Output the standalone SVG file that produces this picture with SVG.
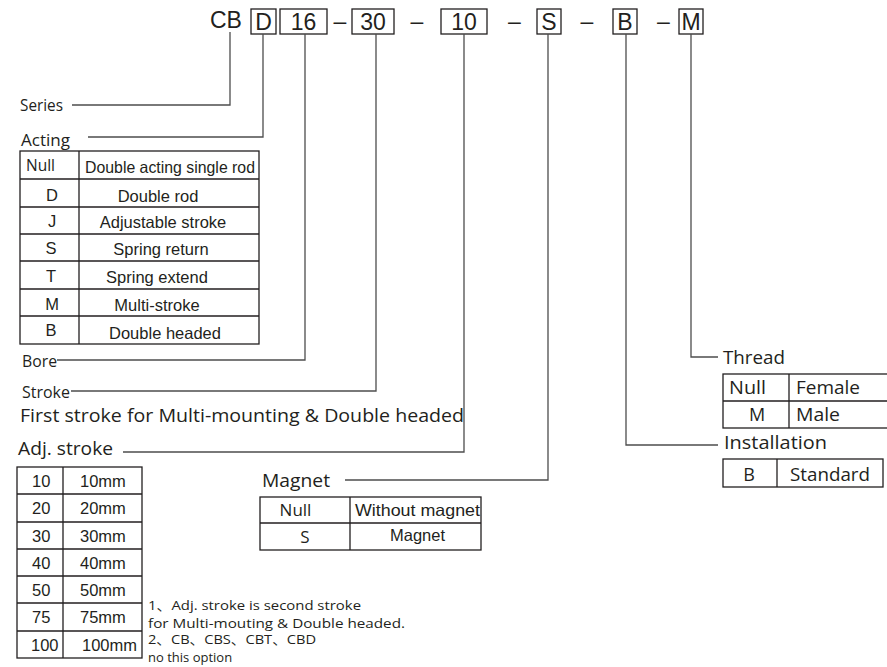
<svg xmlns="http://www.w3.org/2000/svg" width="887" height="667" viewBox="0 0 887 667">
<style>
.bg{fill:#ffffff}
.hd{font-family:"Liberation Sans",Arial,sans-serif;font-size:23px;fill:#231f20}
.box{fill:none;stroke:#231f20;stroke-width:1.3}
.con{fill:none;stroke:#4d4d4d;stroke-width:1.3}
.lbl{font-family:"Open Sans","Noto Sans",sans-serif;fill:#231f20}
.tb{font-family:"Liberation Sans",Arial,sans-serif;font-size:16.5px;fill:#231f20}
.tbh{font-family:"Open Sans","Noto Sans",sans-serif;font-size:17px;fill:#231f20}
.grid{fill:none;stroke:#231f20;stroke-width:1.3}
.note{font-family:"Open Sans","Noto Sans","Noto Sans CJK SC",sans-serif;font-size:13px;fill:#231f20}
.m{text-anchor:middle}
</style>
<rect class="bg" x="0" y="0" width="887" height="667"/>

<g id="code">
  <text class="hd" x="210" y="28">CB</text>
  <rect class="box" x="251" y="9" width="25" height="25"/>
  <text class="hd m" x="263.5" y="30">D</text>
  <rect class="box" x="280" y="9" width="47" height="25"/>
  <text class="hd m" x="303.5" y="30">16</text>
  <text class="hd m" x="340" y="29">–</text>
  <rect class="box" x="352" y="9" width="42" height="25"/>
  <text class="hd m" x="373" y="30">30</text>
  <text class="hd m" x="417" y="29">–</text>
  <rect class="box" x="441" y="9" width="46" height="25"/>
  <text class="hd m" x="464" y="30">10</text>
  <text class="hd m" x="514.5" y="29">–</text>
  <rect class="box" x="537" y="9" width="24" height="25"/>
  <text class="hd m" x="549" y="30">S</text>
  <text class="hd m" x="587" y="29">–</text>
  <rect class="box" x="613" y="9" width="24" height="25"/>
  <text class="hd m" x="625" y="30">B</text>
  <text class="hd m" x="663.5" y="29">–</text>
  <rect class="box" x="679" y="9" width="24" height="25"/>
  <text class="hd m" x="691" y="30">M</text>
</g>

<g id="connectors">
  <path class="con" d="M230,32 V105 H72"/>
  <path class="con" d="M263,34 V137 H88"/>
  <path class="con" d="M305,34 V360 H57"/>
  <path class="con" d="M376,34 V391 H71"/>
  <path class="con" d="M464,34 V452 H123"/>
  <path class="con" d="M548,34 V480 H345"/>
  <path class="con" d="M626,34 V445 H718"/>
  <path class="con" d="M691,34 V357 H718"/>
</g>

<g id="series">
  <text class="lbl" x="20" y="111" font-size="15.5" textLength="43" lengthAdjust="spacingAndGlyphs">Series</text>
</g>

<g id="acting">
  <text class="lbl" x="21" y="146" font-size="17" textLength="49" lengthAdjust="spacingAndGlyphs">Acting</text>
  <rect class="grid" x="20" y="151" width="239" height="193"/>
  <path class="grid" d="M79,151 V344 M20,179 H259 M20,207 H259 M20,234 H259 M20,261 H259 M20,289 H259 M20,316 H259"/>
  <text class="tbh" x="26" y="171" textLength="29" lengthAdjust="spacingAndGlyphs">Null</text>
  <text class="tb" x="85" y="173" font-size="15" textLength="170" lengthAdjust="spacingAndGlyphs">Double acting single rod</text>
  <text class="tb m" x="52" y="201">D</text>
  <text class="tb m" x="158" y="202">Double rod</text>
  <text class="tb m" x="52" y="227">J</text>
  <text class="tb m" x="163" y="228">Adjustable stroke</text>
  <text class="tb m" x="51" y="254">S</text>
  <text class="tb m" x="161" y="255">Spring return</text>
  <text class="tb m" x="51" y="282">T</text>
  <text class="tb m" x="157" y="283">Spring extend</text>
  <text class="tb m" x="52" y="310">M</text>
  <text class="tb m" x="157" y="311">Multi-stroke</text>
  <text class="tb m" x="51" y="336">B</text>
  <text class="tb m" x="165" y="339">Double headed</text>
</g>

<g id="bore">
  <text class="lbl" x="22" y="367" font-size="16" textLength="35" lengthAdjust="spacingAndGlyphs">Bore</text>
</g>

<g id="stroke">
  <text class="lbl" x="22" y="398" font-size="16" textLength="48" lengthAdjust="spacingAndGlyphs">Stroke</text>
  <text class="lbl" x="20" y="422" font-size="18" textLength="444" lengthAdjust="spacingAndGlyphs">First stroke for Multi-mounting &amp; Double headed</text>
</g>

<g id="adj-stroke">
  <text class="lbl" x="18" y="455" font-size="18" textLength="95" lengthAdjust="spacingAndGlyphs">Adj. stroke</text>
  <rect class="grid" x="17" y="467" width="125" height="191"/>
  <path class="grid" d="M63,467 V658 M17,494 H142 M17,522 H142 M17,549 H142 M17,576 H142 M17,603 H142 M17,631 H142"/>
  <g class="tb" font-size="17">
    <text x="32" y="487">10</text><text x="80" y="487">10mm</text>
    <text x="32" y="514">20</text><text x="80" y="514">20mm</text>
    <text x="32" y="542">30</text><text x="80" y="542">30mm</text>
    <text x="32" y="569">40</text><text x="80" y="569">40mm</text>
    <text x="32" y="596">50</text><text x="80" y="596">50mm</text>
    <text x="32" y="623">75</text><text x="80" y="623">75mm</text>
    <text x="31" y="651">100</text><text x="82" y="651">100mm</text>
  </g>
  <text class="note" x="148" y="610" textLength="213" lengthAdjust="spacingAndGlyphs">1、Adj. stroke is second stroke</text>
  <text class="note" x="148" y="627.5" textLength="257" lengthAdjust="spacingAndGlyphs">for Multi-mouting &amp; Double headed.</text>
  <text class="note" x="148" y="644" textLength="168" lengthAdjust="spacingAndGlyphs">2、CB、CBS、CBT、CBD</text>
  <text class="note" x="148" y="662" font-size="12">no this option</text>
</g>

<g id="magnet">
  <text class="lbl" x="262" y="487" font-size="18" textLength="68" lengthAdjust="spacingAndGlyphs">Magnet</text>
  <rect class="grid" x="260" y="497" width="221" height="53"/>
  <path class="grid" d="M350,497 V550 M260,523 H481"/>
  <text class="tbh m" x="295.5" y="516" font-size="18">Null</text>
  <text class="tb" x="355" y="516" font-size="16" textLength="125" lengthAdjust="spacingAndGlyphs">Without magnet</text>
  <text class="tbh m" x="305" y="543" font-size="18">S</text>
  <text class="tb m" x="417.5" y="541" font-size="16.5">Magnet</text>
</g>

<g id="thread">
  <text class="lbl" x="723" y="364" font-size="18" textLength="62" lengthAdjust="spacingAndGlyphs">Thread</text>
  <rect class="grid" x="723" y="374" width="170" height="54"/>
  <path class="grid" d="M789,374 V428 M723,401 H893"/>
  <text class="lbl" x="729" y="394" font-size="18" textLength="37" lengthAdjust="spacingAndGlyphs">Null</text>
  <text class="lbl" x="796" y="394" font-size="18" textLength="64" lengthAdjust="spacingAndGlyphs">Female</text>
  <text class="lbl m" x="757" y="421" font-size="18">M</text>
  <text class="lbl" x="796" y="421" font-size="18" textLength="44" lengthAdjust="spacingAndGlyphs">Male</text>
</g>

<g id="installation">
  <text class="lbl" x="724" y="449" font-size="18" textLength="103" lengthAdjust="spacingAndGlyphs">Installation</text>
  <rect class="grid" x="723" y="459" width="160" height="28"/>
  <path class="grid" d="M777,459 V487"/>
  <text class="lbl m" x="749" y="481" font-size="18">B</text>
  <text class="lbl" x="790" y="481" font-size="18" textLength="80" lengthAdjust="spacingAndGlyphs">Standard</text>
</g>
</svg>
